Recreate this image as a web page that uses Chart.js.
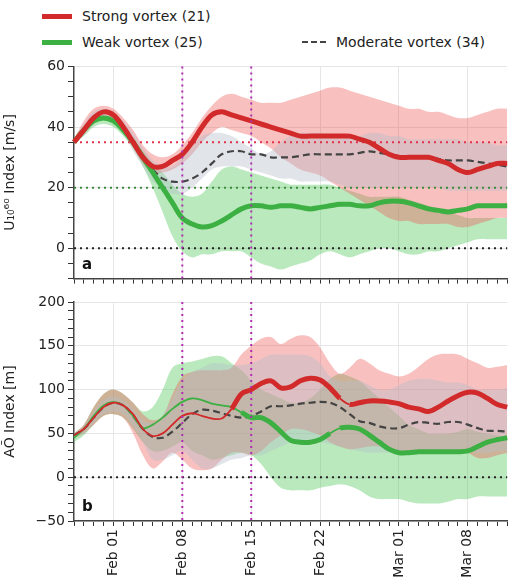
<!DOCTYPE html>
<html>
<head>
<meta charset="utf-8">
<script src="https://cdn.jsdelivr.net/npm/chart.js@4"></script>
<style>
  body { margin: 0; background: #fff; font-family: "DejaVu Sans", sans-serif; }
  #wrap { position: relative; width: 513px; height: 584px; overflow: hidden; }
  .box { position: absolute; left: 0; width: 527px; }
  .leg { position: absolute; font-size: 14px; color: #222; display: flex; align-items: center; }
  .sw { display: inline-block; width: 30px; margin-right: 10px; }
</style>
</head>
<body>
<div id="wrap">
  <div class="leg" style="left:42px;top:8px;"><span class="sw" style="border-top:5px solid #d22a2a;"></span>Strong vortex (21)</div>
  <div class="leg" style="left:42px;top:34px;"><span class="sw" style="border-top:5px solid #3cb043;"></span>Weak vortex (25)</div>
  <div class="leg" style="left:302px;top:34px;"><span class="sw" style="border-top:2px dashed #444;width:24px;"></span>Moderate vortex (34)</div>
  <div class="box" style="top:55px;height:235px;"><canvas id="top"></canvas></div>
  <div class="box" style="top:290px;height:294px;"><canvas id="bot"></canvas></div>
</div>
<script>
// daily dates, Jan 28 – Mar 12 (2024)
const days = [];
for (let d = new Date(2024, 0, 28); d <= new Date(2024, 2, 12); d.setDate(d.getDate() + 1)) {
  days.push(d.toLocaleString('en-US', { month: 'short' }) + ' ' + String(d.getDate()).padStart(2, '0'));
}
const tickDays = ['Feb 01', 'Feb 08', 'Feb 15', 'Feb 22', 'Mar 01', 'Mar 08'];
const markDays = ['Feb 08', 'Feb 15'];

// panel a: U10 60 index
const uStrong = [35,39,43,45,44,40,35,30,27,27,29,31,35,40,44,45,44,43,42,41,40,39,38,37,37,37,37,37,37,36,35,33,31,30,30,30,30,29,28,26,25,26,27,28,28,28];
const uStrongHi = [36,42,46,47,46,43,39,34,31,30,31,34,38,43,47,50,51,50,49,48,48,48,49,50,51,52,53,53,52,51,50,49,48,47,46,46,45,45,44,43,43,44,45,46,46,47];
const uStrongLo = [35,38,41,43,42,38,33,28,25,25,26,28,31,35,38,40,39,38,37,35,33,30,28,26,25,24,22,20,18,16,14,12,10,9,9,8,8,8,8,7,7,8,9,10,10,10];
const uMod = [35,39,43,45,44,40,35,30,26,23,22,22,23,25,28,31,32,32,31,31,30,30,30,30.5,31,31,31,31,31,31.5,32,31.5,31,30.5,30,30,30,29.5,29,29,29,28.5,28,27.5,27,27];
const uModHi = [36,41,45,46,45,42,38,33,29,27,27,30,34,37,38,38,37,35,33,31,32,35,37,38,38,38,37,37,37,37,38,38,37,37,36,36,36,36,36,36,35,35,35,34,34,34];
const uModLo = [35,37,41,43,42,38,32,27,22,20,18,18,20,23,26,27,27,27,26,25,24,23,23,22,22,22,22,21,20,20,20,20,20,20,20,20,20,20,19,19,19,19,19,19,19,19];
const uWeak = [35,39,42,43,42,39,35,30,25,20,15,10,8,7,7.5,9,11,13,14,14,13.5,14,14,13.5,13,13.5,14,14.5,14.5,14,14,15,15.5,15.5,15,14,13,12.5,12,12.5,13,14,14,14,14,14];
const uWeakHi = [36,40,43,44,43,40,36,32,28,25,21,18,17,18,22,26,27,26,25,24,23,22,21,21,21,21,21,20,19,18,17,17,17,17,16,15,14,13,12,11,10,10,10,10,10,10];
const uWeakLo = [35,37,40,41,40,37,33,27,20,12,4,-1,-3,-2,-2,-1,-1,-1,-3,-5,-6,-7,-6,-5,-4,-2,-1,-2,-3,-2,-1,0,0,-1,-2,-2,-1,-1,0,1,2,3,3,3,3,3];

// panel b: AO index
const aStrong = [48,55,68,80,85,82,72,55,47,50,60,70,73,70,67,67,78,95,100,107,110,102,103,110,113,111,102,90,83,85,87,87,86,84,80,78,75,80,87,93,97,96,90,83,80,81];
const aStrongHi = [50,60,80,95,100,95,85,72,65,70,95,115,120,122,122,122,125,140,150,158,160,152,158,162,160,148,130,118,125,135,130,122,118,115,118,126,135,140,141,140,135,130,125,126,128,132];
const aStrongLo = [45,50,60,70,72,68,50,25,10,18,28,20,10,8,10,20,28,28,25,30,40,48,55,55,52,48,40,35,32,33,35,35,32,30,28,28,28,28,30,30,28,22,22,25,28,30];
const aMod = [48,55,68,80,85,82,70,55,46,45,52,62,72,77,76,73,70,68,70,75,81,81,82,84,85,86,85,80,72,64,62,58,56,56,60,63,62,61,63,63,60,56,53,53,52,51];
const aModHi = [50,58,75,88,92,88,78,65,62,70,90,110,120,125,130,130,128,128,130,135,140,140,140,140,138,130,115,110,110,110,105,100,100,105,110,112,112,110,108,108,105,100,100,100,102,105];
const aModLo = [45,50,62,72,75,72,58,40,20,20,25,30,20,10,10,15,20,22,25,25,30,35,40,40,42,40,38,35,32,30,28,28,28,28,30,30,28,28,28,30,30,28,28,30,30,30];
const aWeak = [45,55,70,82,86,82,70,56,60,68,78,86,90,88,84,82,80,74,68,68,62,52,42,40,40,43,50,56,57,55,48,40,32,28,28,29,29,29,29,29,30,35,40,43,45,47];
const aWeakHi = [50,60,80,95,100,95,85,75,80,100,125,130,132,135,138,138,130,122,110,100,95,90,85,85,90,100,112,118,115,110,100,90,80,70,60,55,50,50,50,52,55,52,50,48,47,46];
const aWeakLo = [40,48,60,70,72,68,55,40,30,30,35,40,30,25,20,22,25,28,25,15,0,-12,-15,-15,-15,-12,-10,-8,-10,-15,-22,-25,-25,-25,-28,-30,-30,-30,-28,-25,-25,-22,-22,-22,-22,-22];

const RED = '#d22a2a', GREEN = '#3cb043';
const font = { family: 'DejaVu Sans', size: 14 };

function band(hi, lo, color) {
  return [
    { data: hi, borderWidth: 0, pointRadius: 0, backgroundColor: color, fill: '+1', order: 10 },
    { data: lo, borderWidth: 0, pointRadius: 0, backgroundColor: color, fill: false, order: 10 }
  ];
}
function hline(v, color) {
  return { data: days.map(() => v), borderColor: color, borderWidth: 2, borderDash: [2, 4], pointRadius: 0, fill: false, order: 5 };
}
function widthBy(thin) {
  return { borderWidth: ctx => thin(ctx.p0DataIndex) ? 1.8 : 5 };
}

const panelPlugin = {
  id: 'panel',
  afterDatasetsDraw(chart, args, opts) {
    const { ctx, chartArea: a, scales: { x } } = chart;
    ctx.save();
    ctx.strokeStyle = '#b030b0'; ctx.lineWidth = 2; ctx.setLineDash([2, 4]);
    markDays.forEach(d => {
      const px = x.getPixelForValue(days.indexOf(d));
      ctx.beginPath(); ctx.moveTo(px, a.top); ctx.lineTo(px, a.bottom); ctx.stroke();
    });
    ctx.setLineDash([]);
    ctx.fillStyle = '#111'; ctx.font = 'bold 15px "DejaVu Sans"';
    ctx.fillText(opts.label, a.left + 8, a.bottom - 10);
    ctx.restore();
  }
};

function makeChart(id, sets, yopt, showX, pad, xh) {
  return new Chart(document.getElementById(id), {
    type: 'line',
    data: { labels: days, datasets: sets },
    plugins: [panelPlugin],
    options: {
      responsive: true, maintainAspectRatio: false, animation: false,
      layout: { padding: { top: pad, right: 0, left: 0, bottom: 0 } },
      plugins: { legend: { display: false }, tooltip: { enabled: false }, panel: { label: yopt.label } },
      elements: { line: { tension: 0.35 } },
      scales: {
        x: {
          offset: false,
          grid: { color: c => tickDays.includes(days[c.index]) ? '#e6e6e6' : 'rgba(0,0,0,0)', tickColor: '#333', tickLength: 5 },
          border: { color: '#444', width: 1.5 },
          ticks: {
            autoSkip: false, maxRotation: 90, minRotation: 90, color: '#222', font,
            callback: (v, i) => showX && tickDays.includes(days[i]) ? days[i] : ''
          },
          afterFit: s => { s.height = xh; }
        },
        y: {
          min: yopt.min, max: yopt.max,
          grid: { color: c => c.tick && c.tick.value % yopt.labelStep === 0 ? '#e6e6e6' : 'rgba(0,0,0,0)', tickColor: '#333', tickLength: 6 },
          border: { color: '#444', width: 1.5 },
          ticks: { stepSize: yopt.step, maxTicksLimit: 100, autoSkip: false, color: '#222', font,
            callback: v => v % yopt.labelStep === 0 ? String(v).replace('-', '\u2212') : '' },
          title: { display: true, text: yopt.title, color: '#222', font, padding: 2 },
          afterFit: s => { s.width = 74; }
        }
      }
    }
  });
}

makeChart('top', [
  { data: uStrong, borderColor: RED, borderWidth: 5, pointRadius: 0, fill: false, order: 0 },
  { data: uWeak, borderColor: GREEN, borderWidth: 5, pointRadius: 0, fill: false, order: 1 },
  { data: uMod, borderColor: '#444', borderWidth: 2.2, borderDash: [7, 4], pointRadius: 0, fill: false, order: 2 },
  hline(35, '#e0304a'), hline(20, '#3a8a3a'), hline(0, '#222'),
  ...band(uModHi, uModLo, 'rgba(180,190,200,0.4)'),
  ...band(uStrongHi, uStrongLo, 'rgba(240,90,90,0.38)'),
  ...band(uWeakHi, uWeakLo, 'rgba(80,200,90,0.4)')
], { min: -10, max: 60, step: 5, labelStep: 20, title: 'U\u2081\u2080\u2076\u2070 Index [m/s]', label: 'a' }, false, 9, 6);

makeChart('bot', [
  { data: aStrong, borderColor: RED, pointRadius: 0, fill: false, order: 0, segment: widthBy(i => i < 16 || i === 27) },
  { data: aWeak, borderColor: GREEN, pointRadius: 0, fill: false, order: 1, segment: widthBy(i => i < 17 || i === 26) },
  { data: aMod, borderColor: '#444', borderWidth: 2.2, borderDash: [7, 4], pointRadius: 0, fill: false, order: 2 },
  hline(0, '#222'),
  ...band(aModHi, aModLo, 'rgba(180,190,200,0.4)'),
  ...band(aStrongHi, aStrongLo, 'rgba(240,90,90,0.38)'),
  ...band(aWeakHi, aWeakLo, 'rgba(80,200,90,0.4)')
], { min: -50, max: 200, step: 10, labelStep: 50, title: 'A\u00d5 Index [m]', label: 'b' }, true, 12, 63);
</script>
</body>
</html>
